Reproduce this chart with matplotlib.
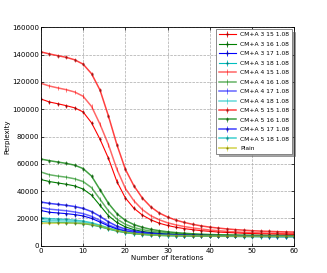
import numpy as np
import matplotlib
matplotlib.use("Agg")
import matplotlib.pyplot as plt

# iteracion (cada 2)
iters = list(range(0, 61, 2))

# CM+A <a> <b> 1.08
r3 = [107500,105300,104000,102600,101000,98000,90000,78000,64000,47000,35000,27500,22500,19000,16500,14800,13500,12500,11700,11000,10500,10000,9700,9400,9100,8900,8700,8600,8500,8400,8300]
g3 = [48500,47000,46000,45000,43800,41500,37000,29500,22000,17000,13800,11800,10500,9600,9000,8500,8200,7900,7700,7500,7400,7300,7200,7100,7100,7000,7000,6900,6900,6900,6800]
b3 = [25800,24500,24000,23500,22800,21800,20000,17300,14500,12200,10600,9600,8900,8400,8000,7700,7500,7300,7200,7100,7000,6900,6900,6900,6800,6800,6800,6700,6700,6700,6700]
c3 = [17800,17300,17100,16900,16600,16100,15200,13800,12100,10600,9500,8700,8200,7800,7500,7300,7200,7100,7000,6900,6900,6800,6800,6800,6700,6700,6700,6700,6600,6600,6600]

r4 = [119000,117000,115600,114300,112600,109500,102000,89000,74000,56000,42000,33000,26500,22000,19000,16800,15200,14000,13000,12200,11500,11000,10500,10100,9800,9600,9400,9200,9100,9000,8900]
g4 = [54000,52000,51000,50200,49000,47000,42500,34000,25500,19500,15700,13300,11800,10700,9900,9300,8900,8500,8200,8000,7800,7700,7600,7500,7400,7400,7300,7300,7200,7200,7200]
b4 = [28000,26800,26200,25600,24700,23500,21500,18500,15300,12800,11000,9900,9100,8500,8100,7800,7600,7400,7300,7200,7100,7000,7000,6900,6900,6900,6800,6800,6800,6800,6800]
c4 = [19200,18600,18300,18000,17600,17000,16000,14400,12500,10900,9700,8900,8300,7900,7600,7400,7300,7200,7100,7000,6900,6900,6900,6800,6800,6800,6700,6700,6700,6700,6700]

r5 = [142000,140500,139200,138000,136200,133000,126000,114000,95000,74000,56000,44000,35000,28500,24000,21000,18700,17000,15600,14500,13600,12900,12300,11800,11400,11000,10700,10500,10300,10100,10000]
g5 = [63500,62300,61300,60300,59000,56500,51000,41000,31000,23500,18500,15500,13500,12000,11000,10200,9600,9100,8700,8400,8200,8000,7900,7800,7700,7600,7600,7500,7500,7400,7400]
b5 = [32000,31000,30300,29600,28700,27300,25000,21500,17500,14300,12200,10800,9900,9200,8700,8300,8000,7800,7600,7500,7400,7300,7200,7200,7100,7100,7000,7000,7000,6900,6900]
c5 = [20500,19800,19500,19200,18700,18000,16800,15000,13000,11300,10000,9100,8500,8100,7800,7600,7400,7300,7200,7100,7000,7000,6900,6900,6900,6800,6800,6800,6800,6700,6700]

plain = [16500,16500,16600,16600,16500,16200,15500,14200,12600,11000,9800,9000,8400,8000,7700,7500,7400,7300,7200,7100,7100,7000,7000,7000,6900,6900,6900,6900,6900,6900,6900]

labels = ["CM+A 3 15 1.08", "CM+A 3 16 1.08", "CM+A 3 17 1.08", "CM+A 3 18 1.08",
          "CM+A 4 15 1.08", "CM+A 4 16 1.08", "CM+A 4 17 1.08", "CM+A 4 18 1.08",
          "CM+A 5 15 1.08", "CM+A 5 16 1.08", "CM+A 5 17 1.08", "CM+A 5 18 1.08",
          "Plain"]
series = [r3, g3, b3, c3, r4, g4, b4, c4, r5, g5, b5, c5, plain]
errs = [1500] * 12 + [1200]

colores = ['r', 'g', 'b', 'c']
oscuros = ['#801010', '#105010', '#101080', '#107070']

plt.rcParams['font.family'] = 'DejaVu Sans'
plt.rcParams['font.size'] = 5

fig = plt.figure(figsize=(3.27, 2.73), dpi=100)
ax = fig.add_subplot(111)
fig.subplots_adjust(left=0.125, right=0.9, bottom=0.1, top=0.9)

for i in range(13):
    if i == 12:
        ax.errorbar(iters, series[i], yerr=errs[i], color='y', lw=1.3, alpha=0.6,
                    elinewidth=0.6, marker='.', ms=1.5, mfc='#707000', mec='#707000',
                    label=labels[i])
        continue
    grupo = i // 4
    c = colores[i % 4]
    d = oscuros[i % 4]
    if grupo == 0:
        ax.errorbar(iters, series[i], yerr=errs[i], color=c, lw=0.8, elinewidth=0.6,
                    marker='s', ms=1.0, mfc=d, mec=d, mew=0.3, label=labels[i])
    elif grupo == 1:
        ax.errorbar(iters, series[i], yerr=errs[i], color=c, lw=1.1, alpha=0.6,
                    elinewidth=0.6, label=labels[i])
    else:
        ax.errorbar(iters, series[i], yerr=errs[i], color=c, lw=1.1, alpha=0.75,
                    elinewidth=0.6, marker='s', ms=1.2, mfc=d, mec=d, mew=0.3,
                    label=labels[i])

ax.set_xlim(0, 60)
ax.set_ylim(0, 160000)
ax.set_xticks(range(0, 61, 10))
ax.set_yticks(range(0, 160001, 20000))
ax.tick_params(direction='in', length=2, width=0.5, pad=1.5, labelsize=5,
               top=True, right=True)
ax.grid(True, linestyle='--', color='#aaaaaa', lw=0.5)
for s in ax.spines.values():
    s.set_linewidth(0.6)
ax.set_xlabel("Number of Iterations", fontsize=5, labelpad=1)
ax.set_ylabel("Perplexity", fontsize=5, labelpad=1)
leg = ax.legend(loc='upper right', fontsize=4.3, shadow=True, fancybox=False,
                handlelength=2.8, labelspacing=0.72, borderpad=0.45,
                handletextpad=0.8, framealpha=1, borderaxespad=0.35)
leg.get_frame().set_edgecolor('#777777')
leg.get_frame().set_linewidth(0.6)

plt.savefig("out.png", dpi=100)
